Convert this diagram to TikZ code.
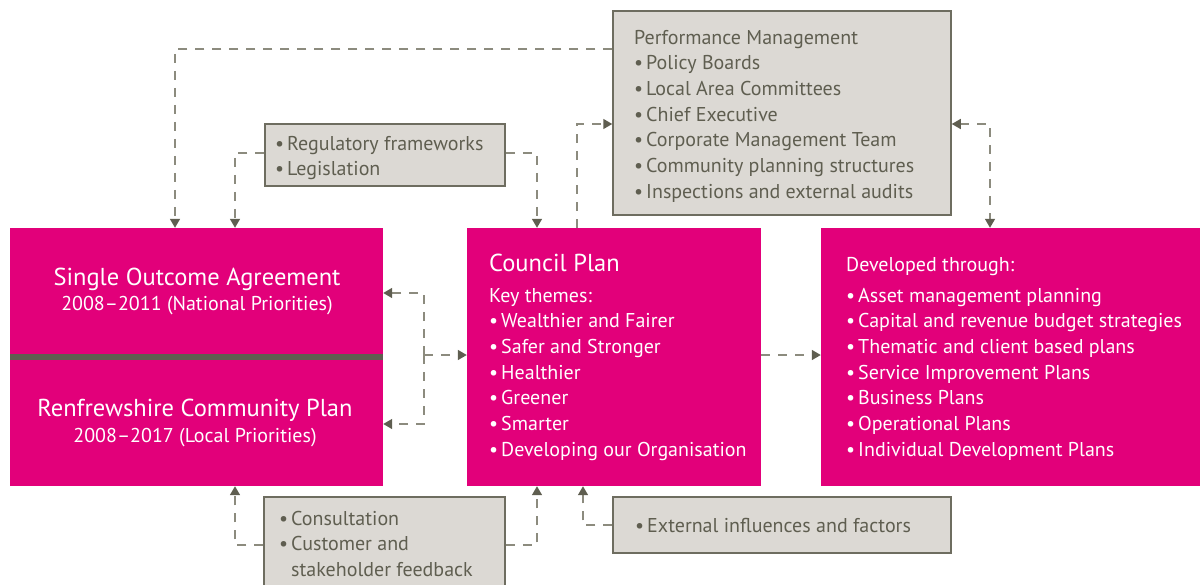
\documentclass[tikz,border=0pt]{standalone}
\usepackage{fontspec}
\setmainfont{PT Sans}
\usetikzlibrary{arrows.meta}
\definecolor{plum}{HTML}{E2007A}
\definecolor{stone}{HTML}{DCD9D4}
\definecolor{slate}{HTML}{5F5E50}
\definecolor{rim}{HTML}{6E6D60}
\definecolor{dashc}{HTML}{8C8B7E}
\newcommand{\bul}{\textbullet\hspace{3pt}}
\tikzset{
  pinkbox/.style={fill=plum, draw=none, inner sep=0pt},
  greybox/.style={fill=stone, draw=rim, line width=1.5pt, inner sep=0pt},
  body/.style={font=\fontsize{20}{25.7}\selectfont, inner sep=0pt, align=left, anchor=north west},
  wbody/.style={body, text=white},
  gbody/.style={body, text=slate},
  conn/.style={draw=dashc, line width=1.5pt, dash pattern=on 9pt off 8pt,
    -{Triangle[width=10pt,length=9pt,color=slate]}},
  conn2/.style={conn, {Triangle[width=10pt,length=9pt,color=slate]}-{Triangle[width=10pt,length=9pt,color=slate]}},
}
\begin{document}
\begin{tikzpicture}[x=1pt,y=-1pt]
\useasboundingbox (0,0) rectangle (1200,584);
\begin{scope}
\clip (0,0) rectangle (1200,584);
% main pink boxes
\node[pinkbox, minimum width=373pt, minimum height=258pt] (soa) at (196.5,357) {};
\node[pinkbox, minimum width=294pt, minimum height=258pt] (cp) at (614,357) {};
\node[pinkbox, minimum width=379pt, minimum height=258pt] (dev) at (1010.5,357) {};
\fill[slate] (10,354) rectangle (383,360);
% grey boxes
\node[greybox, minimum width=338pt, minimum height=204pt] (perf) at (782,113) {};
\node[greybox, minimum width=240pt, minimum height=62pt] (reg) at (385,155) {};
\node[greybox, minimum width=241pt, minimum height=110pt] (cons) at (384.5,552) {};
\node[greybox, minimum width=338pt, minimum height=56pt] (ext) at (782,525) {};
\end{scope}

% texts in the left box
\node[text=white, font=\fontsize{24.5}{28}\selectfont, anchor=base, inner sep=0pt] (soat) at (197,285) {Single Outcome Agreement};
\node[text=white, font=\fontsize{20}{24}\selectfont, anchor=base, inner sep=0pt] (soad) at (197,310) {2008–2011 (National Priorities)};
\node[text=white, font=\fontsize{24.5}{28}\selectfont, anchor=base, inner sep=0pt] (rcpt) at (195,416) {Renfrewshire Community Plan};
\node[text=white, font=\fontsize{20}{24}\selectfont, anchor=base, inner sep=0pt] (rcpd) at (195,442) {2008–2017 (Local Priorities)};

% council plan
\node[text=white, font=\fontsize{24.5}{28}\selectfont, anchor=base west, inner sep=0pt] (cpt) at (489,271) {Council Plan};
\node[wbody] (cpl) at (489,284) {\strut Key themes:\\
\bul Wealthier and Fairer\\
\bul Safer and Stronger\\
\bul Healthier\\
\bul Greener\\
\bul Smarter\\
\bul Developing our Organisation};

% developed through
\node[text=white, font=\fontsize{20}{25.7}\selectfont, anchor=base west, inner sep=0pt] (devt) at (846,271) {Developed through:};
\node[wbody] (devl) at (846,284) {\strut\bul Asset management planning\\
\bul Capital and revenue budget strategies\\
\bul Thematic and client based plans\\
\bul Service Improvement Plans\\
\bul Business Plans\\
\bul Operational Plans\\
\bul Individual Development Plans};

% grey box texts
\node[gbody] (perfl) at (634,26) {\strut Performance Management\\
\bul Policy Boards\\
\bul Local Area Committees\\
\bul Chief Executive\\
\bul Corporate Management Team\\
\bul Community planning structures\\
\bul Inspections and external audits};
\node[gbody] (regl) at (275,132) {\strut\bul Regulatory frameworks\\
\bul Legislation};
\node[gbody] (consl) at (279,507) {\strut\bul Consultation\\
\bul Customer and\\
\phantom{\bul}stakeholder feedback};
\node[gbody] (extl) at (635,514) {\strut\bul External influences and factors};

% connectors
\draw[conn] (perf.west |- 0,49) -| (soa.north -| 175,0);
\draw[conn] (reg.west |- 0,153) -| (soa.north -| 235,0);
\draw[conn] (reg.east |- 0,153) -| (cp.north -| 537,0);
\draw[conn] (cp.north -| 577,0) |- (perf.west |- 0,124);
\draw[conn2] (perf.east |- 0,124) -| (dev.north -| 990,0);
\coordinate (j) at (424,355);
\draw[conn] (j) |- (soa.east |- 0,293);
\draw[conn] (j) |- (soa.east |- 0,424);
\draw[conn] (j) -- (cp.west |- j);
\draw[conn] (cp.east |- 0,355) -- (dev.west |- 0,355);
\draw[conn] (cons.west |- 0,545) -| (soa.south -| 235,0);
\draw[conn] (cons.east |- 0,545) -| (cp.south -| 537,0);
\draw[conn] (ext.west |- 0,525) -| (cp.south -| 583,0);
\end{tikzpicture}
\end{document}
